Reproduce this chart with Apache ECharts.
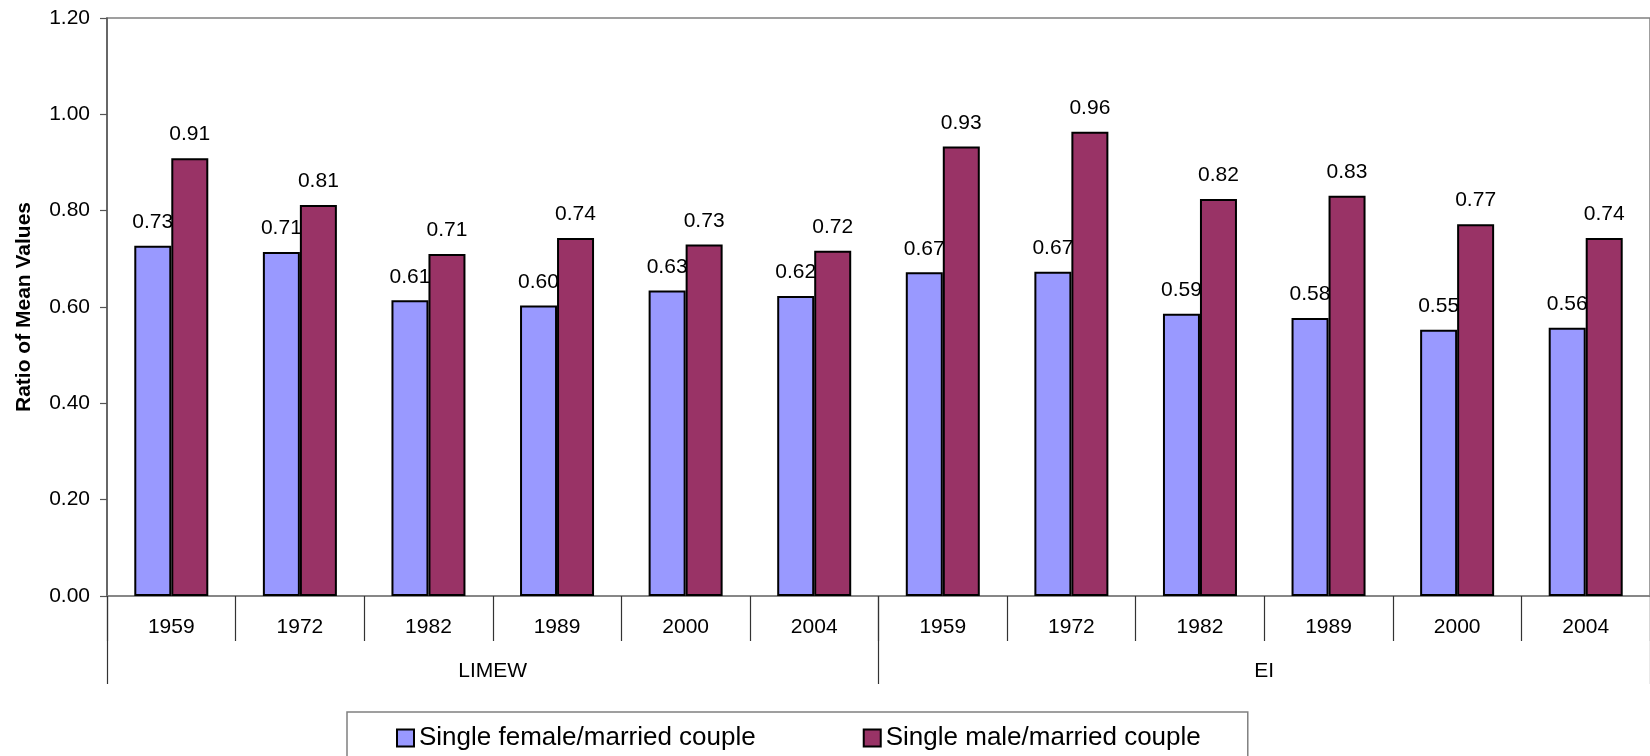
<!DOCTYPE html>
<html>
<head>
<meta charset="utf-8">
<script src="https://cdn.jsdelivr.net/npm/echarts@6/dist/echarts.min.js"></script>
<style>
  html, body { margin: 0; padding: 0; background: #ffffff; }
  #chart { width: 1650px; height: 756px; }
</style>
</head>
<body>
<div id="chart"></div>
<script>
// Survey years shown under each measure
const years = ['1959', '1972', '1982', '1989', '2000', '2004'];
// Measures (second level of the category axis)
const groups = ['LIMEW', 'EI'];
// Ratio of mean values, LIMEW years followed by EI years
const femaleRatio = [0.727, 0.714, 0.614, 0.603, 0.634, 0.623, 0.672, 0.673, 0.586, 0.577, 0.553, 0.557];
const maleRatio   = [0.909, 0.812, 0.710, 0.743, 0.730, 0.717, 0.933, 0.964, 0.824, 0.831, 0.772, 0.743];
const seriesNames = ['Single female/married couple', 'Single male/married couple'];
// Value axis range
const yMin = 0, yMax = 1.2, yStep = 0.2;

// Unique category keys: "<measure> <year>"
const categories = groups.flatMap(g => years.map(y => g + ' ' + y));

const FONT = 'Liberation Sans, Arial, sans-serif';
const labelStyle = {
  show: true,
  position: 'top',
  distance: 13,
  fontSize: 21,
  fontFamily: FONT,
  color: '#000',
  formatter: p => p.value.toFixed(2)
};

const chart = echarts.init(document.getElementById('chart'), null, { renderer: 'canvas' });
chart.setOption({
  backgroundColor: '#ffffff',
  animation: false,
  textStyle: { fontFamily: FONT },
  grid: {
    left: 107, top: 18, width: 1548, height: 578,
    show: true, borderColor: '#808080', borderWidth: 1.5, backgroundColor: 'transparent'
  },
  legend: {
    data: seriesNames,
    left: 347, top: 712,
    orient: 'horizontal',
    icon: 'rect',
    itemWidth: 17, itemHeight: 17,
    itemGap: 107,
    padding: [13, 47, 20, 49],
    borderColor: '#808080', borderWidth: 1.5,
    textStyle: { fontSize: 26, fontFamily: FONT, color: '#000' }
  },
  xAxis: [
    {
      type: 'category',
      data: categories,
      position: 'bottom',
      axisLine: { show: true, lineStyle: { color: '#808080', width: 1.5 } },
      axisTick: { show: true, length: 45, interval: 0, lineStyle: { color: '#333', width: 1.2 } },
      axisLabel: {
        interval: 0, margin: 21, fontSize: 21, fontFamily: FONT, color: '#000',
        formatter: v => v.split(' ')[1]
      },
      splitLine: { show: false }
    },
    {
      type: 'category',
      data: groups,
      position: 'bottom',
      axisLine: { show: false },
      axisTick: { show: true, length: 88, interval: 0, lineStyle: { color: '#333', width: 1.2 } },
      axisLabel: { interval: 0, margin: 65, fontSize: 21, fontFamily: FONT, color: '#000' },
      splitLine: { show: false }
    }
  ],
  yAxis: {
    type: 'value',
    min: yMin, max: yMax, interval: yStep,
    name: 'Ratio of Mean Values',
    nameLocation: 'middle',
    nameGap: 72,
    nameTextStyle: { fontSize: 21, fontWeight: 'bold', fontFamily: FONT, color: '#000' },
    axisLine: { show: true, lineStyle: { color: '#555', width: 1.5 } },
    axisTick: { show: true, length: 7, lineStyle: { color: '#555', width: 1.2 } },
    axisLabel: { margin: 17, fontSize: 21, fontFamily: FONT, color: '#000', formatter: v => v.toFixed(2) },
    splitLine: { show: false }
  },
  series: [
    {
      name: seriesNames[0],
      type: 'bar',
      xAxisIndex: 0,
      data: femaleRatio,
      barWidth: 37,
      barGap: '0%',
      z: 2,
      itemStyle: { color: '#9999FF', borderColor: '#000', borderWidth: 2 },
      label: labelStyle
    },
    {
      name: seriesNames[1],
      type: 'bar',
      xAxisIndex: 0,
      data: maleRatio,
      barWidth: 37,
      barGap: '0%',
      z: 3,
      itemStyle: { color: '#993366', borderColor: '#000', borderWidth: 2 },
      label: labelStyle
    }
  ]
});
</script>
</body>
</html>
